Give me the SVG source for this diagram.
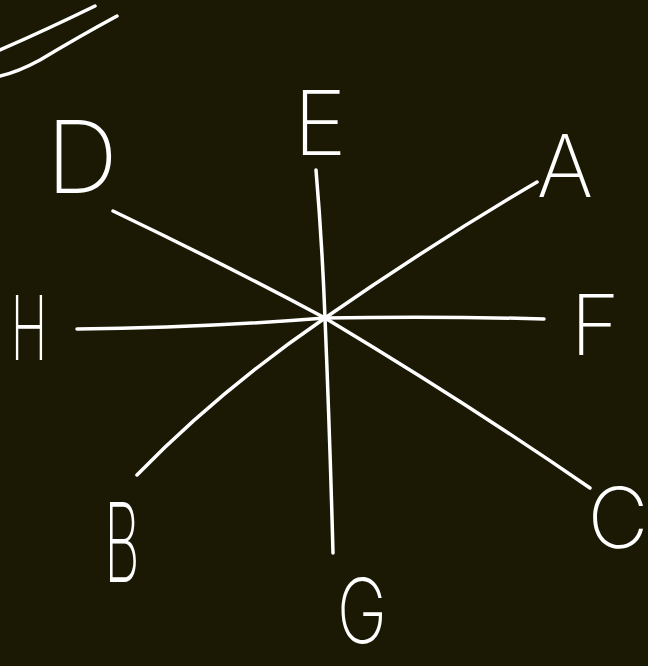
<svg xmlns="http://www.w3.org/2000/svg" width="648" height="666" viewBox="0 0 648 666">
<style>
.bg{fill:#1b1904}
.ln{fill:none;stroke:#ffffff;stroke-width:3.5;stroke-linecap:round;stroke-linejoin:round}
.lb{fill:#ffffff;font-family:Inter,"Liberation Sans",sans-serif;font-weight:200;text-anchor:middle}
</style>
<rect class="bg" x="0" y="0" width="648" height="666"/>
<g id="marks">
<path class="ln" d="M0 50 Q50 28 95 6"/>
<path class="ln" d="M0 76 Q18 72 40 60 Q80 36 117 16"/>
</g>
<g id="connectors">
<path class="ln" d="M316 170 Q322 240 325 318 Q330 440 333 553"/>
<path class="ln" d="M113 211 Q220 262 325 318"/>
<path class="ln" d="M537 182 Q430 245 325 318"/>
<path class="ln" d="M77 329 Q200 328 325 318 Q440 316 544 319"/>
<path class="ln" d="M137 475 Q220 390 325 318"/>
<path class="ln" d="M325 318 Q470 405 590 488"/>
</g>
<g id="node-D"><text class="lb" x="82" y="193" font-size="100">D</text></g>
<g id="node-E"><text class="lb" x="320" y="155" font-size="90">E</text></g>
<g id="node-A"><text class="lb" x="565" y="197" font-size="86">A</text></g>
<g id="node-F"><text class="lb" x="595" y="355" font-size="84">F</text></g>
<g id="node-H"><text class="lb" transform="translate(29,360) scale(0.55,1)" x="0" y="0" font-size="90">H</text></g>
<g id="node-B"><text class="lb" transform="translate(122,582) scale(0.5,1)" x="0" y="0" font-size="110">B</text></g>
<g id="node-G"><text class="lb" transform="translate(362,643) scale(0.75,1)" x="0" y="0" font-size="90">G</text></g>
<g id="node-C"><text class="lb" x="618" y="548" font-size="84">C</text></g>
</svg>
